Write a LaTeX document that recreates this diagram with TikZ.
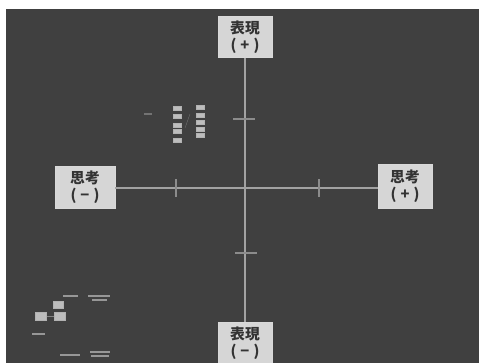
\documentclass[tikz,border=0pt]{standalone}
\usepackage{fontspec}
\newfontfamily\jp{Noto Sans CJK JP}
\definecolor{bgdark}{HTML}{404040}
\definecolor{boxfill}{HTML}{D6D6D6}
\definecolor{axisc}{HTML}{A2A2A2}
\definecolor{tinyc}{HTML}{BDBDBD}
\tikzset{
  labelbox/.style={draw=white!85!black, line width=0.6pt, fill=boxfill, minimum width=27mm, minimum height=20.5mm, inner sep=0pt, align=center, font=\jp\bfseries\fontsize{21}{25}\selectfont, text=black!80},
  axisline/.style={draw=axisc, line width=1.2mm},
  tickh/.style={fill=black!45, minimum width=11mm, minimum height=0.7mm, inner sep=0pt},
  tickv/.style={fill=black!45, minimum width=0.7mm, minimum height=9mm, inner sep=0pt},
  tinybox/.style={fill=tinyc, draw=white!70!black, line width=0.2pt, minimum width=4mm, minimum height=2mm, inner sep=0pt},
  tinytext/.style={fill=tinyc!80!black, minimum height=0.9mm, inner sep=0pt},
}
\begin{document}
\begin{tikzpicture}[x=0.5mm,y=-0.5mm]
\useasboundingbox (0,0) rectangle (479,363);
\fill[white] (0,0) rectangle (479,363);
\fill[bgdark] (6,9) rectangle (479,363);
% main boxes
\node[labelbox] (tp) at (245,37) {表現\\(\;+\;)};
\node[labelbox, minimum width=30mm, minimum height=21mm] (lf) at (85,187) {思考\\(\;−\;)};
\node[labelbox, minimum width=27mm, minimum height=22mm] (rt) at (405,186) {思考\\(\;+\;)};
\node[labelbox, minimum height=21mm] (bt) at (245,343) {表現\\(\;−\;)};
% axes
\draw[axisline] (tp.south) -- (bt.north);
\draw[axisline] (lf.east |- 0,188) -- (rt.west |- 0,188);
% ticks
\node[tickh] (t1) at (244,119) {};
\node[tickh] (t2) at (246,253) {};
\node[tickv] (t3) at (176,188) {};
\node[tickv] (t4) at (319,188) {};
% small elements upper left
\node[fill=black!55, minimum width=4mm, minimum height=0.8mm, inner sep=0pt] (blob) at (148,114) {};
\node[tinybox] (a1) at (177,108) {};
\node[tinybox] (a2) at (177,116) {};
\node[tinybox] (a3) at (177,125) {};
\node[tinybox] (a4) at (177,131) {};
\node[tinybox] (a5) at (177,140) {};
\node[tinybox] (b1) at (200,107) {};
\node[tinybox] (b2) at (200,115) {};
\node[tinybox] (b3) at (200,122) {};
\node[tinybox] (b4) at (200,129) {};
\node[tinybox] (b5) at (200,135) {};
\coordinate (s1) at (190,114);
\coordinate (s2) at (185,128);
\draw[tinyc!70!black, line width=0.3pt] (s1) -- (s2);
% small elements lower left
\node[tinytext, minimum width=7.5mm] (x1) at (70,296) {};
\node[tinytext, minimum width=11mm] (x2) at (99,296) {};
\node[tinytext, minimum width=7.5mm] (x3) at (99,300) {};
\node[tinybox, minimum width=5mm, minimum height=3.5mm] (c1) at (58,305) {};
\node[tinybox, minimum width=5.5mm, minimum height=4mm] (c2) at (41,316) {};
\node[tinybox, minimum width=5.5mm, minimum height=4mm] (c3) at (60,316) {};
\draw[tinyc!70!black, line width=0.3pt] (c2) -- (c3);
\node[tinytext, minimum width=6.5mm] (x4) at (38,334) {};
\node[tinytext, minimum width=10mm] (x5) at (70,355) {};
\node[tinytext, minimum width=10mm] (x6) at (100,352) {};
\node[tinytext, minimum width=9mm] (x7) at (100,356) {};
\end{tikzpicture}
\end{document}
